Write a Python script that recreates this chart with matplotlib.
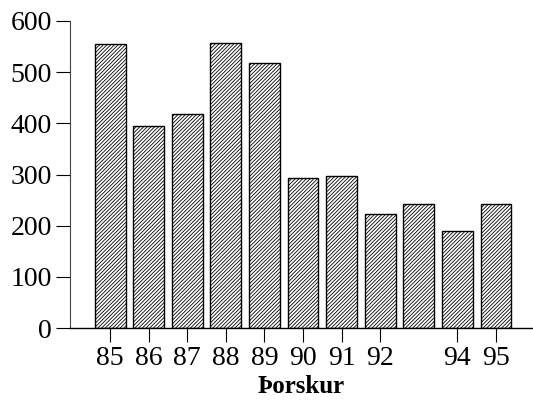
import matplotlib.pyplot as plt

# data
years = [85, 86, 87, 88, 89, 90, 91, 92, 93, 94, 95]
values = [556, 394, 418, 557, 517, 294, 297, 222, 243, 189, 243]
tick_years = [85, 86, 87, 88, 89, 90, 91, 92, 94, 95]
y_ticks = [0, 100, 200, 300, 400, 500, 600]

plt.rcParams['font.family'] = ['Liberation Serif', 'DejaVu Serif']
plt.rcParams['hatch.linewidth'] = 0.6

fig = plt.figure(figsize=(5.33, 4.04), dpi=100)
ax = fig.add_axes([70 / 533, 76 / 404, 463 / 533, 307 / 404])

ax.bar(years, values, width=0.8, color='white', edgecolor='black',
       linewidth=1.0, hatch='/' * 9)

ax.set_xlim(83.96, 95.96)
ax.set_ylim(0, 600)
ax.set_xticks(tick_years)
ax.set_xticklabels([str(t) for t in tick_years])
ax.set_yticks(y_ticks)

ax.spines['top'].set_visible(False)
ax.spines['right'].set_visible(False)
ax.spines['left'].set_linewidth(0.8)
ax.spines['left'].set_color('#444444')
ax.spines['bottom'].set_linewidth(1.0)

ax.tick_params(axis='y', direction='out', length=10, width=0.8,
               labelsize=20, pad=3)
ax.tick_params(axis='x', direction='out', length=10, width=0.8,
               labelsize=20, pad=3)

ax.set_xlabel('Þorskur', fontsize=18, fontweight='bold', labelpad=3)

fig.savefig('out.png', dpi=100)
